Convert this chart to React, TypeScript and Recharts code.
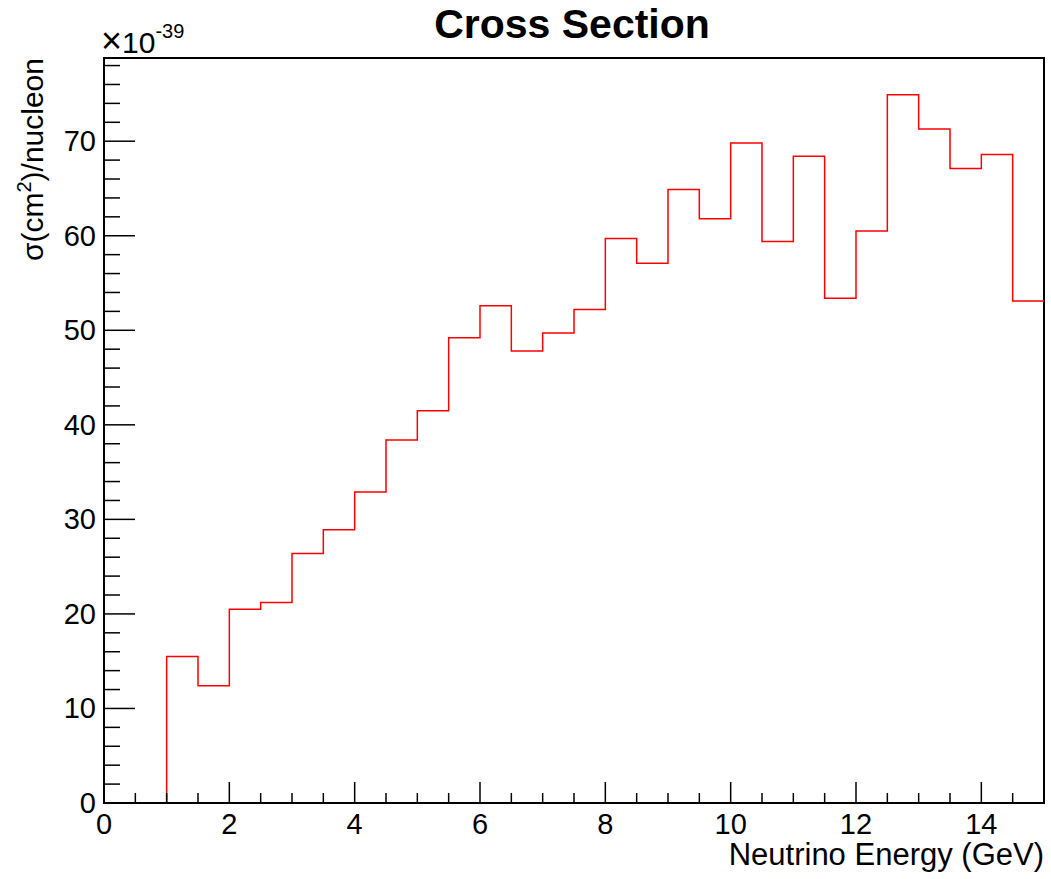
import { LineChart, Line, XAxis, YAxis, ReferenceArea } from "recharts";

const binLowEdges = [
  0, 0.5, 1, 1.5, 2, 2.5, 3, 3.5, 4, 4.5, 5, 5.5, 6, 6.5, 7, 7.5, 8, 8.5, 9,
  9.5, 10, 10.5, 11, 11.5, 12, 12.5, 13, 13.5, 14, 14.5,
];
const xMax = 15;

// sigma per nucleon, in units of 1e-39 cm^2
const crossSection = [
  0, 0, 15.5, 12.4, 20.5, 21.2, 26.4, 28.9, 32.9, 38.4, 41.5, 49.2, 52.6, 47.8,
  49.7, 52.2, 59.7, 57.1, 64.9, 61.8, 69.8, 59.4, 68.4, 53.4, 60.5, 74.9, 71.3,
  67.1, 68.6, 53.1,
];

const xTicks = [
  0, 0.5, 1, 1.5, 2, 2.5, 3, 3.5, 4, 4.5, 5, 5.5, 6, 6.5, 7, 7.5, 8, 8.5, 9,
  9.5, 10, 10.5, 11, 11.5, 12, 12.5, 13, 13.5, 14, 14.5,
];
const xLabels = [0, 2, 4, 6, 8, 10, 12, 14];

const yTicks = [
  0, 2, 4, 6, 8, 10, 12, 14, 16, 18, 20, 22, 24, 26, 28, 30, 32, 34, 36, 38, 40,
  42, 44, 46, 48, 50, 52, 54, 56, 58, 60, 62, 64, 66, 68, 70, 72, 74, 76, 78,
];
const yLabels = [0, 10, 20, 30, 40, 50, 60, 70];
const yMax = 78.8;

const data = [
  ...binLowEdges.map((x, i) => ({ x, y: crossSection[i] })),
  { x: xMax, y: crossSection[crossSection.length - 1] },
];

const FONT = "'Liberation Sans', Arial, Helvetica, sans-serif";

const YTick = ({ x, y, payload }: any) => {
  const major = yLabels.includes(payload.value);
  return (
    <g>
      <line
        x1={x}
        x2={x + (major ? 31 : 16)}
        y1={y}
        y2={y}
        stroke="#000"
        strokeWidth={1.5}
      />
      {major && (
        <text
          x={x - 8}
          y={y + 10}
          textAnchor="end"
          fontSize={29}
          fontFamily={FONT}
          fill="#000"
        >
          {payload.value}
        </text>
      )}
    </g>
  );
};

const XTick = ({ x, y, payload }: any) => {
  const major = xLabels.includes(payload.value);
  return (
    <g>
      <line
        x1={x}
        x2={x}
        y1={y}
        y2={y - (major ? 21 : 10)}
        stroke="#000"
        strokeWidth={1.5}
      />
      {major && (
        <text
          x={x}
          y={y + 31}
          textAnchor="middle"
          fontSize={29}
          fontFamily={FONT}
          fill="#000"
        >
          {payload.value}
        </text>
      )}
    </g>
  );
};

export default function App() {
  return (
    <div
      style={{
        position: "absolute",
        left: 0,
        top: 0,
        width: 1051,
        height: 879,
        background: "#fff",
      }}
    >
      <LineChart
        width={1051}
        height={879}
        data={data}
        margin={{ top: 58, right: 7, bottom: 0, left: 0 }}
      >
        <XAxis
          dataKey="x"
          type="number"
          domain={[0, xMax]}
          allowDataOverflow
          ticks={xTicks}
          interval={0}
          tick={<XTick />}
          tickLine={false}
          tickSize={0}
          tickMargin={0}
          height={76}
          axisLine={{ stroke: "#000", strokeWidth: 2 }}
        />
        <YAxis
          type="number"
          domain={[0, yMax]}
          allowDataOverflow
          ticks={yTicks}
          interval={0}
          tick={<YTick />}
          tickLine={false}
          tickSize={0}
          tickMargin={0}
          width={104}
          axisLine={{ stroke: "#000", strokeWidth: 2 }}
        />
        <ReferenceArea
          x1={0}
          x2={xMax}
          y1={0}
          y2={yMax}
          fill="none"
          fillOpacity={0}
          stroke="#000"
          strokeWidth={2}
          strokeOpacity={1}
        />
        <Line
          dataKey="y"
          type="stepAfter"
          stroke="#ff0000"
          strokeWidth={1.5}
          dot={false}
          activeDot={false}
          isAnimationActive={false}
        />
      </LineChart>
      <svg
        width={1051}
        height={879}
        style={{ position: "absolute", left: 0, top: 0, pointerEvents: "none" }}
        fontFamily={FONT}
      >
        <text
          x={572}
          y={38}
          textAnchor="middle"
          fontSize={41}
          fontWeight="bold"
          fill="#000"
        >
          Cross Section
        </text>
        <text x={101} y={53} fontSize={30} fill="#000">
          <tspan fontSize={36}>×</tspan>10
          <tspan dy={-15} fontSize={20}>-39</tspan>
        </text>
        <text
          x={1044}
          y={865}
          textAnchor="end"
          fontSize={31}
          fill="#000"
        >
          Neutrino Energy (GeV)
        </text>
        <text
          transform="translate(43,58) rotate(-90)"
          textAnchor="end"
          fontSize={30}
          fill="#000"
        >
          σ(cm<tspan dy={-12} fontSize={20}>2</tspan>
          <tspan dy={12}>)/nucleon</tspan>
        </text>
      </svg>
    </div>
  );
}
